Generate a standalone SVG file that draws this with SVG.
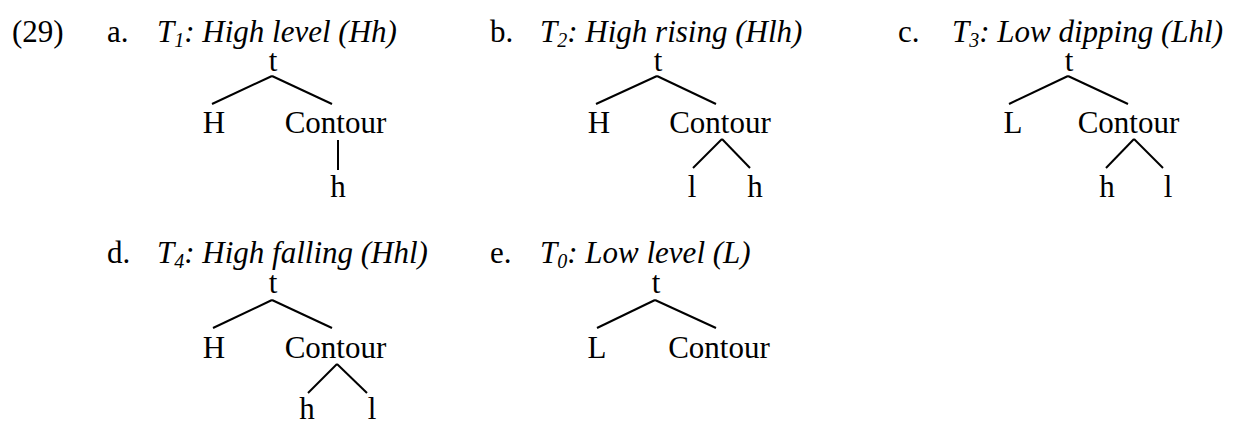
<svg xmlns="http://www.w3.org/2000/svg" width="1234" height="421" viewBox="0 0 1234 421">
<style>
text{font-family:"Liberation Serif","Times New Roman",serif;font-size:31px;fill:#000}
.it{font-style:italic}
.n{text-anchor:middle}
.sub{font-size:20px}
.c line{stroke:#000;stroke-width:2;stroke-linecap:butt}
</style>
<rect width="1234" height="421" fill="#fff"/>
<text id="num" x="12" y="42">(29)</text>
<!-- headings -->
<g id="head-a"><text x="107" y="42">a.</text><text class="it" x="157" y="42">T<tspan class="sub" dy="5">1</tspan><tspan dy="-5">: High level (Hh)</tspan></text></g>
<g id="head-b"><text x="490" y="42">b.</text><text class="it" x="540" y="42">T<tspan class="sub" dy="5">2</tspan><tspan dy="-5">: High rising (Hlh)</tspan></text></g>
<g id="head-c"><text x="898" y="42">c.</text><text class="it" x="952" y="42">T<tspan class="sub" dy="5">3</tspan><tspan dy="-5">: Low dipping (Lhl)</tspan></text></g>
<g id="head-d"><text x="107" y="263">d.</text><text class="it" x="157" y="263">T<tspan class="sub" dy="5">4</tspan><tspan dy="-5">: High falling (Hhl)</tspan></text></g>
<g id="head-e"><text x="490" y="263">e.</text><text class="it" x="540" y="263">T<tspan class="sub" dy="5">0</tspan><tspan dy="-5">: Low level (L)</tspan></text></g>
<!-- tree a -->
<g id="a-t"><text class="n" x="273" y="71">t</text></g>
<g id="a-H"><text class="n" x="214" y="133">H</text></g>
<g id="a-C"><text class="n" x="335.5" y="133">Contour</text></g>
<g id="a-h"><text class="n" x="338" y="197">h</text></g>
<!-- tree b -->
<g id="b-t"><text class="n" x="658" y="71">t</text></g>
<g id="b-H"><text class="n" x="599" y="133">H</text></g>
<g id="b-C"><text class="n" x="720" y="133">Contour</text></g>
<g id="b-l"><text class="n" x="692" y="197">l</text></g>
<g id="b-h"><text class="n" x="755" y="197">h</text></g>
<!-- tree c -->
<g id="c-t"><text class="n" x="1069" y="71">t</text></g>
<g id="c-L"><text class="n" x="1013" y="133">L</text></g>
<g id="c-C"><text class="n" x="1128.5" y="133">Contour</text></g>
<g id="c-h"><text class="n" x="1107" y="197">h</text></g>
<g id="c-l"><text class="n" x="1168" y="197">l</text></g>
<!-- tree d -->
<g id="d-t"><text class="n" x="273" y="293">t</text></g>
<g id="d-H"><text class="n" x="214" y="358">H</text></g>
<g id="d-C"><text class="n" x="335.5" y="358">Contour</text></g>
<g id="d-h"><text class="n" x="307" y="419">h</text></g>
<g id="d-l"><text class="n" x="372" y="419">l</text></g>
<!-- tree e -->
<g id="e-t"><text class="n" x="656" y="293">t</text></g>
<g id="e-L"><text class="n" x="597" y="358">L</text></g>
<g id="e-C"><text class="n" x="719" y="358">Contour</text></g>
<!-- connectors -->
<g id="connectors" class="c">
<line x1="272" y1="76" x2="212" y2="104"/><line x1="272" y1="76" x2="332" y2="104"/>
<line x1="338" y1="140" x2="338" y2="170"/>
<line x1="657" y1="76" x2="596" y2="104"/><line x1="657" y1="76" x2="716" y2="104"/>
<line x1="722" y1="139" x2="693" y2="168"/><line x1="722" y1="139" x2="750" y2="168"/>
<line x1="1068" y1="76" x2="1009" y2="104"/><line x1="1068" y1="76" x2="1128" y2="104"/>
<line x1="1134" y1="139" x2="1106" y2="168"/><line x1="1134" y1="139" x2="1163" y2="168"/>
<line x1="272" y1="300" x2="213" y2="328"/><line x1="272" y1="300" x2="332" y2="328"/>
<line x1="337" y1="364" x2="308" y2="393"/><line x1="337" y1="364" x2="367" y2="393"/>
<line x1="655" y1="300" x2="597" y2="328"/><line x1="655" y1="300" x2="716" y2="328"/>
</g>
</svg>
